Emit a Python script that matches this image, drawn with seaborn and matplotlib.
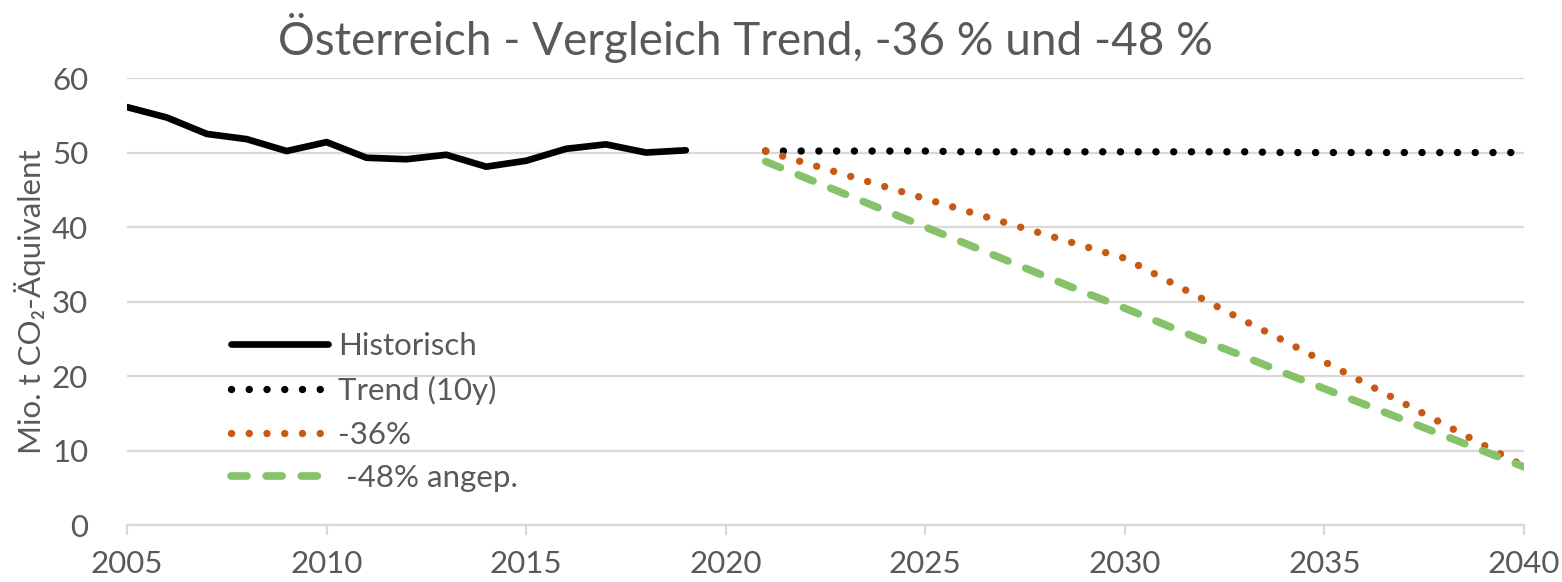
import matplotlib
matplotlib.use("Agg")
import matplotlib.pyplot as plt
import pandas as pd
import seaborn as sns

# Data, Mio. t CO2-eq
hist_years = list(range(2005, 2020))
hist_values = [56.1, 54.7, 52.5, 51.8, 50.2, 51.4, 49.3, 49.1, 49.7, 48.1,
               48.9, 50.5, 51.1, 50.0, 50.3]

proj_years = list(range(2021, 2041))
trend_values = [50.2, 50.2, 50.2, 50.2, 50.2, 50.1, 50.1, 50.1, 50.1, 50.1,
                50.1, 50.1, 50.1, 50.0, 50.0, 50.0, 50.0, 50.0, 50.0, 50.0]
minus36_values = [50.2, 48.6, 47.0, 45.4, 43.8, 42.2, 40.6, 39.0, 37.4, 35.8,
                  33.0, 30.2, 27.4, 24.7, 21.9, 19.1, 16.3, 13.5, 10.7, 7.9]
minus48_values = [48.8, 46.6, 44.4, 42.2, 40.0, 37.8, 35.6, 33.4, 31.2, 29.1,
                  26.9, 24.7, 22.6, 20.4, 18.3, 16.2, 14.1, 12.0, 9.9, 7.8]

x_ticks = [2005, 2010, 2015, 2020, 2025, 2030, 2035, 2040]
y_ticks = [0, 10, 20, 30, 40, 50, 60]

hist = pd.DataFrame({"year": hist_years, "value": hist_values})
proj = pd.DataFrame({"year": proj_years, "trend": trend_values,
                     "m36": minus36_values, "m48": minus48_values})

# Style
sns.set_theme(style="white")
plt.rcParams["font.family"] = ["Lato", "DejaVu Sans"]
TEXT = "#595959"
GRID = "#D9D9D9"
ORANGE = "#C65A12"
GREEN = "#86C26A"
FS = 22.5

fig = plt.figure(figsize=(15.62, 5.82), dpi=100)
ax = fig.add_axes([0.0813, 0.0979, 0.8944, 0.768])

dots = (0, (0.01, 2.4))
sns.lineplot(data=hist, x="year", y="value", ax=ax, color="black", lw=4.8,
             estimator=None, label="Historisch", solid_capstyle="round",
             solid_joinstyle="round")
sns.lineplot(data=proj, x="year", y="trend", ax=ax, color="black", lw=5.3,
             estimator=None, label="Trend (10y)", linestyle=dots,
             dash_capstyle="round")
sns.lineplot(data=proj, x="year", y="m36", ax=ax, color=ORANGE, lw=5.3,
             estimator=None, label="-36%", linestyle=dots,
             dash_capstyle="round")
sns.lineplot(data=proj, x="year", y="m48", ax=ax, color=GREEN, lw=5.5,
             estimator=None, label=" -48% angep.", linestyle=(0, (2.1, 2.5)),
             dash_capstyle="round")

ax.set_xlim(2005, 2040)
ax.set_ylim(0, 60)
ax.set_xticks(x_ticks)
ax.set_yticks(y_ticks)
ax.yaxis.grid(True, color=GRID, lw=1.6)
ax.xaxis.grid(False)
ax.set_axisbelow(True)
for side in ["left", "right", "top"]:
    ax.spines[side].set_visible(False)
ax.spines["bottom"].set_color(GRID)
ax.spines["bottom"].set_linewidth(1.6)

ax.tick_params(axis="x", bottom=True, length=7, width=1.6, color=GRID,
               labelcolor=TEXT, labelsize=FS, pad=11)
ax.tick_params(axis="y", left=False, labelsize=FS, labelcolor=TEXT, pad=22)

ax.set_xlabel("")
ax.set_ylabel("Mio. t CO₂-Äquivalent", fontsize=FS, color=TEXT, labelpad=4)
ax.set_title("Österreich - Vergleich Trend, -36 % und -48 %", fontsize=33,
             color=TEXT, pad=16.5, x=0.443)

ax.legend(loc="center left", bbox_to_anchor=(0.0745, 0.252), frameon=False,
          fontsize=FS, handlelength=3.1, handletextpad=0.32, labelspacing=0.5,
          borderpad=0, borderaxespad=0, labelcolor=TEXT)

fig.savefig("out.png", dpi=100)
